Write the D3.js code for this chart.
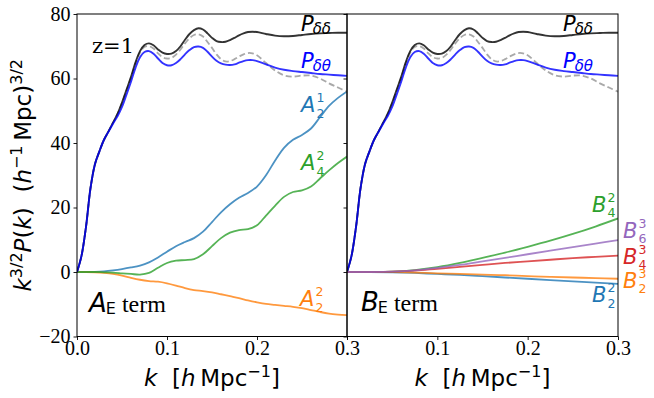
<!DOCTYPE html>
<html><head><meta charset="utf-8">
<script src="https://cdn.jsdelivr.net/npm/d3@7"></script>
<style>body{margin:0;background:#fff}</style>
</head><body>
<svg id="c" width="654" height="398"></svg>
<script>
// ---------- data ----------
const kP = [0,.005,.01,.015,.02,.025,.03,.035,.04,.045,.05,.055,.06,.065,.07,.075,.08,.085,.09,.095,
  .1,.105,.11,.115,.12,.125,.13,.135,.14,.145,.15,.155,.16,.165,.17,.175,.18,.185,.19,.195,
  .2,.21,.22,.23,.24,.25,.26,.27,.28,.29,.3];
const Pdd = [0,5,14,26,33.5,37.5,41,43.6,46.3,49, 52.5,56.5,60.5,65,68.5,70.4,70.9,70.3,69.0,68.0,
  67.6,67.7,68.5,70.0,72.0,73.8,75.0,75.6,75.2,74.0, 72.6,71.6,71.3,71.4,71.9,72.6,73.4,74.0,74.4,74.5,
  74.4, 73.8,73.3,73.1,73.2,73.5,73.8,74.0,74.1,74.2,74.2];
const Pdt = [0,5,14,26,33.5,37.5,41,43.5,46,48.3, 51.2,55,59,63.3,66.6,68.2,68.5,67.7,66.2,64.8,
  64.1,64.1,64.8,66,67.5,68.8,69.7,69.9,69.5,68.3, 66.8,65.5,64.7,64.3,64.2,64.4,64.9,65.4,65.7,65.7,
  65.4, 64.4,63.4,62.7,62.3,62.0,61.7,61.4,61.2,61.0,60.8];
const Pref = [0,5,14,26,33.5,37.5,41,43.6,46.3,49, 52.4,56.3,60.2,64.6,68,69.8,70.0,69.3,67.8,66.6,
  66.2,66.4,67.4,69.0,70.9,72.5,73.5,73.7,73.0,71.3, 69.5,67.5,66.0,65.3,65.4,66.0,66.8,67.5,67.9,67.8,
  67.2, 64.8,62.5,61.0,60.6,60.9,60.9,60.0,58.5,57.2,55.9];

const kA = [0,.01,.02,.03,.04,.05,.06,.07,.08,.09,.1,.11,.12,.13,.14,.15,.16,.17,.18,.19,
  .2,.21,.22,.23,.24,.25,.26,.27,.28,.29,.3];
const A21 = [0,0,0.05,0.2,0.5,0.9,1.4,2.0,3.0,4.5, 6.3,8.0,9.3,10.5,12.5,15.5,18.5,21.0,23.0,24.5,
  26.5,30.0,34.5,38.5,41.0,42.5,44.5,48.0,51.5,54.0, 56.0];
const A42 = [0,0,0,-0.1,-0.2,-0.4,-0.6,-0.8,-0.3,1.3, 2.8,3.5,3.7,4.0,5.5,8.0,10.5,12.2,13.0,13.3,
  14.5,17.5,20.5,23.3,24.8,25.3,26.5,29.0,31.5,33.8, 35.8];
const A22 = [0,0,-0.1,-0.3,-0.6,-1.1,-1.8,-2.4,-2.8,-3.0, -3.5,-4.2,-5.0,-5.6,-5.9,-6.3,-6.9,-7.5,-8.1,-8.8,
  -9.4,-9.9,-10.2,-10.5,-10.8,-11.2,-11.8,-12.4,-12.9,-13.2, -13.4];

const kB = [0,.025,.05,.075,.1,.125,.15,.175,.2,.225,.25,.275,.3];
const B42 = [0,0.0,0.1,0.6,1.5,2.8,4.4,6.0,7.8,9.7,11.8,14.1,16.6];
const B63 = [0,0.0,0.1,0.5,1.3,2.2,3.3,4.4,5.5,6.6,7.7,8.8,9.9];
const B43 = [0,0.0,0.1,0.4,1.0,1.6,2.2,2.8,3.3,3.8,4.3,4.7,5.1];
const B23 = [0,0,-0.05,-0.2,-0.4,-0.6,-0.8,-1.0,-1.3,-1.5,-1.7,-1.9,-2.1];
const B22 = [0,0,-0.1,-0.3,-0.6,-0.9,-1.3,-1.7,-2.1,-2.5,-2.9,-3.3,-3.7];

const yTicks = [-20,0,20,40,60,80];
const xTicks = [0,0.1,0.2,0.3];

// ---------- drawing ----------
const svg = d3.select('#c');
const TOP = 14, BOT = 336.5;
const y = d3.scaleLinear().domain([-20,80]).range([BOT, TOP]);
const panels = [{x0:77, x1:347, id:'L'}, {x0:347, x1:618, id:'R'}];
const SERIF = "'Liberation Serif','Times New Roman',serif";
const DSERIF = "'DejaVu Serif',serif";
const SANS = "'DejaVu Sans',sans-serif";
const C = {blue:'#1f77b4', orange:'#ff7f0e', green:'#2ca02c', red:'#d62728', purple:'#9467bd'};

panels.forEach(p => {
  p.x = d3.scaleLinear().domain([0,0.3]).range([p.x0, p.x1]);
  svg.append('clipPath').attr('id','clip'+p.id).append('rect')
    .attr('x',p.x0).attr('y',TOP).attr('width',p.x1-p.x0).attr('height',BOT-TOP);
  p.g = svg.append('g').attr('clip-path','url(#clip'+p.id+')');
});

function line(p, ks, vs, color, opts={}) {
  const gen = d3.line().x(d=>p.x(d[0])).y(d=>y(d[1])).curve(d3.curveCatmullRom.alpha(0.5));
  p.g.append('path').datum(ks.map((k,i)=>[k,vs[i]]))
    .attr('d', gen).attr('fill','none').attr('stroke',color)
    .attr('stroke-width', opts.w || 1.8).attr('stroke-opacity', opts.op ?? 0.8)
    .attr('stroke-dasharray', opts.dash || null).attr('stroke-linejoin','round');
}

const [L, R] = panels;
line(L, kA, A21, C.blue);
line(L, kA, A22, C.orange);
line(L, kA, A42, C.green);
[L, R].forEach(p => {
  line(p, kP, Pref, '#a0a0a0', {dash:'6,3', op:0.9});
  line(p, kP, Pdd, '#000', {w:1.9});
  line(p, kP, Pdt, '#0000ff', {w:1.9});
});
line(R, kB, B22, C.blue);
line(R, kB, B23, C.orange);
line(R, kB, B42, C.green);
line(R, kB, B43, C.red);
line(R, kB, B63, C.purple);

// axes & frames
panels.forEach((p, pi) => {
  const ax = svg.append('g');
  const gx = ax.append('g').attr('transform',`translate(0,${BOT})`)
    .call(d3.axisBottom(p.x).tickValues(xTicks).tickSize(3.5).tickPadding(2)
      .tickFormat(d => (pi===1 && d===0) ? '' : d3.format('.1f')(d)));
  const gy = ax.append('g').attr('transform',`translate(${p.x0},0)`)
    .call(d3.axisLeft(y).tickValues(yTicks).tickSize(3.5).tickPadding(3)
      .tickFormat(d => pi===0 ? d3.format('')(d).replace('-','\u2212') : ''));
  [gx, gy].forEach(g => {
    g.select('.domain').remove();
    g.selectAll('line').attr('stroke','#000').attr('stroke-width',0.9);
    g.selectAll('text').attr('font-family',SERIF).attr('font-size',20).attr('fill','#000');
  });
  gx.selectAll('text').attr('dy','0.64em');
  svg.append('rect').attr('x',p.x0).attr('y',TOP).attr('width',p.x1-p.x0).attr('height',BOT-TOP)
    .attr('fill','none').attr('stroke','#000').attr('stroke-width',1);
});

// math labels (single text element each)
function mlabel(x, yb, main, color, sub, sup, subItalic=false, subSize=12.5) {
  const t = svg.append('text').attr('x',x).attr('y',yb).attr('font-family',SANS)
    .attr('font-size',21).attr('fill',color);
  const m = t.append('tspan').attr('font-style','italic').text(main);
  const w = m.node().getComputedTextLength();
  if (sup) {
    t.append('tspan').attr('x',x+w+1).attr('y',yb-10).attr('font-size',subSize).text(sup);
    t.append('tspan').attr('x',x+w+1).attr('y',yb+5.5).attr('font-size',subSize).text(sub);
  } else {
    t.append('tspan').attr('x',x+w-1).attr('y',yb+2.5).attr('font-size',subSize)
      .attr('font-style',subItalic?'italic':'normal').text(sub);
  }
}
mlabel(301, 31, 'P', '#000', '\u03b4\u03b4', null, true, 15);
mlabel(301, 68, 'P', '#0000ff', '\u03b4\u03b8', null, true, 15);
mlabel(563, 31, 'P', '#000', '\u03b4\u03b4', null, true, 15);
mlabel(563, 68, 'P', '#0000ff', '\u03b4\u03b8', null, true, 15);
mlabel(301, 112, 'A', C.blue, '2', '1');
mlabel(301, 170, 'A', C.green, '4', '2');
mlabel(300, 306, 'A', C.orange, '2', '2');
mlabel(592, 211.5, 'B', C.green, '4', '2');
mlabel(623, 237.5, 'B', C.purple, '6', '3');
mlabel(623, 263.5, 'B', C.red, '4', '3');
mlabel(623, 287.5, 'B', C.orange, '2', '3');
mlabel(592, 302, 'B', C.blue, '2', '2');

// z=1
svg.append('text').attr('x',92).attr('y',53).attr('font-family',DSERIF).attr('font-size',21)
  .text('z=1');

// term labels
function termLabel(x, yb, letter) {
  const t = svg.append('text').attr('x',x).attr('y',yb).attr('font-family',SANS);
  const a = t.append('tspan').attr('font-style','italic').attr('font-size',26).text(letter);
  const w = a.node().getComputedTextLength();
  t.append('tspan').attr('x',x+w-1).attr('y',yb+2).attr('font-size',16).text('E');
  t.append('tspan').attr('y',yb).attr('font-family',SERIF).attr('font-size',24).text('\u00a0term');
}
termLabel(89, 312, 'A');
termLabel(361, 311, 'B');

// axis labels
function xLabel(cx) {
  const t = svg.append('text').attr('x',cx).attr('y',386).attr('text-anchor','middle')
    .attr('font-family',SANS).attr('font-size',23);
  t.append('tspan').attr('font-style','italic').text('k');
  t.append('tspan').text('\u00a0\u00a0[');
  t.append('tspan').attr('font-style','italic').text('h');
  t.append('tspan').text('\u2009Mpc');
  t.append('tspan').attr('font-size',16).attr('dy',-9).text('\u22121');
  t.append('tspan').attr('dy',9).text(']');
}
xLabel((L.x0+L.x1)/2);
xLabel((R.x0+R.x1)/2);

const yl = svg.append('text').attr('transform',`translate(31,${(TOP+BOT)/2}) rotate(-90)`)
  .attr('text-anchor','middle').attr('font-family',SANS).attr('font-size',23);
yl.append('tspan').attr('font-style','italic').text('k');
yl.append('tspan').attr('font-size',16).attr('dy',-9).text('3/2');
yl.append('tspan').attr('font-style','italic').attr('dy',9).text('P');
yl.append('tspan').text('(');
yl.append('tspan').attr('font-style','italic').text('k');
yl.append('tspan').text(')\u00a0\u00a0(');
yl.append('tspan').attr('font-style','italic').text('h');
yl.append('tspan').attr('font-size',16).attr('dy',-9).text('\u22121');
yl.append('tspan').attr('dy',9).text('\u2009Mpc)');
yl.append('tspan').attr('font-size',16).attr('dy',-9).text('3/2');
</script>
</body></html>
